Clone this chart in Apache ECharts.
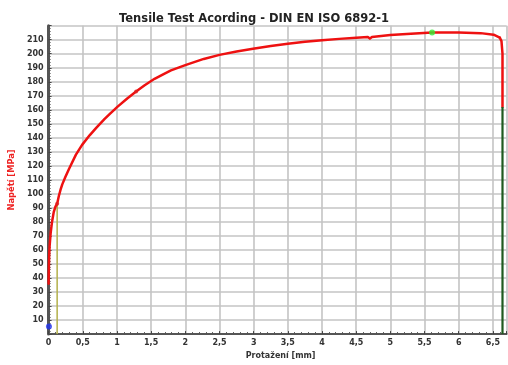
<!DOCTYPE html>
<html>
<head>
<meta charset="utf-8">
<script src="https://cdn.jsdelivr.net/npm/echarts@6/dist/echarts.min.js"></script>
<style>
  html, body { margin: 0; padding: 0; background: #fff; }
  #chart { width: 508px; height: 365px; }
</style>
</head>
<body>
<div id="chart"></div>
<script>
// Elongation [mm] and stress [MPa] along the measured tensile curve (up to the knee before fracture)
const strain = [0, 0.003, 0.008, 0.015, 0.03, 0.05, 0.075, 0.10, 0.125, 0.15, 0.175, 0.20, 0.245, 0.30, 0.40, 0.49, 0.60, 0.70, 0.82, 0.90, 1.01, 1.15, 1.28, 1.40, 1.55, 1.69, 1.79, 2.0, 2.27, 2.5, 2.75, 2.99, 3.25, 3.5, 3.75, 4.0, 4.25, 4.5, 4.67, 4.70, 4.73, 5.0, 5.3, 5.61, 6.0, 6.32, 6.51, 6.60];
const stress = [36, 45, 55, 63, 72, 80, 87, 91, 93, 98.5, 103, 106.8, 112, 118, 128, 135, 141.8, 147.3, 153.5, 157.3, 162.3, 168.1, 173, 177.3, 182.1, 185.7, 188.1, 191.9, 196.3, 199.2, 201.6, 203.5, 205.5, 207.2, 208.5, 209.6, 210.6, 211.4, 211.9, 210.8, 212, 213.3, 214.3, 215.1, 215.1, 214.7, 213.6, 211.5];

// Drop of the curve at fracture
const dropStrain = [6.60, 6.625, 6.64, 6.64];
const dropStress = [211.5, 209, 200, 162];

// Characteristic points: start, yield, intermediate, maximum
const startPoint = [0.005, 5.5];
const yieldPoint = [0.125, 93];
const midPoint = [1.28, 173];
const maxPoint = [5.61, 215.1];

// Vertical markers: yield drop line and fracture line
const yieldLine = [[0.125, 0], [0.125, 93]];
const breakLine = [[6.64, 0], [6.64, 162]];

// Axis ranges and tick steps
const xMin = 0, xMax = 6.7, xStep = 0.5;
const yMin = 0, yMax = 220, yStep = 10;

const curve = strain.map((x, i) => [x, stress[i]]);
const drop = dropStrain.map((x, i) => [x, dropStress[i]]);

const chart = echarts.init(document.getElementById('chart'), null, { renderer: 'canvas' });

const labelFont = { fontFamily: 'DejaVu Sans', fontSize: 8, fontWeight: 'bold', color: '#333' };

chart.setOption({
  animation: false,
  backgroundColor: '#fff',
  title: {
    text: 'Tensile Test Acording - DIN EN ISO 6892-1',
    left: 'center',
    top: 8,
    textStyle: { fontFamily: 'DejaVu Sans', fontSize: 11.5, fontWeight: 'bold', color: '#222' }
  },
  grid: { left: 43, right: 1.4, top: 25.7, bottom: 25, containLabel: false },
  xAxis: {
    type: 'value',
    min: xMin, max: xMax, interval: xStep,
    name: 'Protažení [mm]',
    nameLocation: 'middle',
    nameGap: 15,
    nameTextStyle: { fontFamily: 'DejaVu Sans', fontSize: 8, fontWeight: 'bold', color: '#333', padding: [0, 0, 0, 6] },
    axisLine: { lineStyle: { color: '#555', width: 2 } },
    axisTick: { show: true, inside: true, length: 3, lineStyle: { color: '#444' } },
    minorTick: { show: true, splitNumber: 5, length: 2, lineStyle: { color: '#555' } },
    splitLine: { show: true, lineStyle: { color: '#c4c4c4', width: 1.6 } },
    axisLabel: Object.assign({
      margin: 5,
      showMaxLabel: false,
      formatter: v => (Math.abs(v / xStep - Math.round(v / xStep)) < 1e-6) ? String(+v.toFixed(2)).replace('.', ',') : ''
    }, labelFont)
  },
  yAxis: {
    type: 'value',
    min: yMin, max: yMax, interval: yStep,
    name: 'Napětí [MPa]',
    nameLocation: 'middle',
    nameGap: 28,
    nameRotate: 90,
    nameTextStyle: { fontFamily: 'DejaVu Sans', fontSize: 8.3, fontWeight: 'bold', color: '#ee2222' },
    axisLine: { show: true, lineStyle: { color: '#555', width: 3 } },
    axisTick: { show: true, inside: true, length: 3, lineStyle: { color: '#444' } },
    minorTick: { show: true, splitNumber: 5, length: 2, lineStyle: { color: '#555' } },
    splitLine: { show: true, lineStyle: { color: '#c4c4c4', width: 1.6 } },
    axisLabel: Object.assign({ margin: 5, showMinLabel: false, showMaxLabel: false }, labelFont)
  },
  series: [
    {
      type: 'line',
      data: yieldLine,
      showSymbol: false,
      lineStyle: { color: '#b3b04a', width: 1.5 },
      z: 3
    },
    {
      type: 'line',
      data: curve,
      showSymbol: false,
      lineStyle: { color: '#ee1111', width: 2.5, join: 'round', cap: 'round' },
      z: 4
    },
    {
      type: 'line',
      data: drop,
      showSymbol: false,
      lineStyle: { color: '#ee1111', width: 2.5, join: 'round', cap: 'round' },
      z: 4
    },
    {
      type: 'line',
      data: breakLine,
      showSymbol: false,
      lineStyle: { color: '#1f5a1f', width: 2.2 },
      z: 5
    },
    {
      type: 'scatter',
      data: [startPoint],
      symbolSize: 6,
      itemStyle: { color: '#2233ee' },
      z: 6
    },
    {
      type: 'scatter',
      data: [yieldPoint, midPoint],
      symbolSize: 4,
      itemStyle: { color: '#dd2222' },
      z: 6
    },
    {
      type: 'scatter',
      data: [maxPoint],
      symbolSize: 6,
      itemStyle: { color: '#33ee33' },
      z: 6
    }
  ]
});
</script>
</body>
</html>
